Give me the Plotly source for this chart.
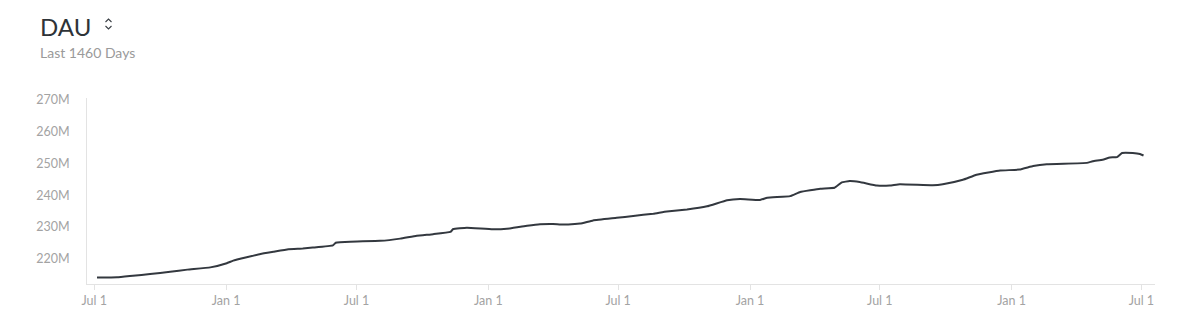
import plotly.graph_objects as go

dates = ["2019-07-05","2019-08-02","2019-08-24","2019-09-17","2019-10-15","2019-11-08","2019-12-10",
         "2020-01-02","2020-01-11","2020-02-18","2020-03-07","2020-03-28","2020-04-17","2020-05-01",
         "2020-05-29","2020-06-02","2020-06-08","2020-07-02","2020-08-03","2020-08-31","2020-09-23",
         "2020-10-16","2020-11-09","2020-11-13","2020-12-02","2021-01-07","2021-01-31","2021-02-24",
         "2021-03-14","2021-04-01","2021-04-15","2021-05-09","2021-05-27","2021-06-29","2021-07-22",
         "2021-08-19","2021-09-07","2021-10-05","2021-11-02","2021-11-30","2021-12-18","2022-01-15",
         "2022-01-25","2022-02-26","2022-03-12","2022-04-09","2022-04-29","2022-05-09","2022-05-20",
         "2022-06-03","2022-06-27","2022-07-15","2022-07-29","2022-09-13","2022-09-27","2022-10-25",
         "2022-11-13","2022-12-16","2023-01-12","2023-01-31","2023-02-19","2023-04-16","2023-04-24",
         "2023-05-08","2023-05-18","2023-05-28","2023-06-04","2023-06-19","2023-06-29","2023-07-04"]
dau_m = [214.2,214.3,214.8,215.3,216.0,216.7,217.4,
         218.7,219.5,221.6,222.3,223.1,223.3,223.6,
         224.3,225.1,225.3,225.5,225.7,226.4,227.3,
         227.8,228.5,229.4,229.8,229.3,229.6,230.4,
         230.9,231.0,230.8,231.1,232.1,232.9,233.5,
         234.2,234.9,235.5,236.5,238.4,238.8,238.5,
         239.2,239.7,241.0,242.0,242.3,244.0,244.4,
         244.1,243.0,243.0,243.4,243.1,243.4,244.8,
         246.4,247.7,248.0,249.1,249.7,250.1,250.6,
         251.1,251.8,251.9,253.2,253.2,252.9,252.4]
dau = [v * 1e6 for v in dau_m]

y_ticks_m = [220, 230, 240, 250, 260, 270]
y_tick_labels = ["220M", "230M", "240M", "250M", "260M", "270M"]
x_ticks = ["2019-07-01","2020-01-01","2020-07-01","2021-01-01","2021-07-01",
           "2022-01-01","2022-07-01","2023-01-01","2023-07-01"]
x_tick_labels = ["Jul 1","Jan 1","Jul 1","Jan 1","Jul 1","Jan 1","Jul 1","Jan 1","Jul 1"]

fig = go.Figure()
fig.add_trace(go.Scatter(x=dates, y=dau, mode="lines",
                         line=dict(color="#33383f", width=2, shape="spline", smoothing=0.3),
                         hoverinfo="x+y", showlegend=False))

axis_col = "#e3e3e3"
tick_font = dict(family="Lato", size=12.5, color="#a3a3a3")
fig.update_layout(
    width=1200, height=329,
    margin=dict(l=87, r=45, t=98, b=45),
    paper_bgcolor="white", plot_bgcolor="white",
    font=dict(family="Lato"),
    xaxis=dict(range=["2019-06-21", "2023-07-20"], tickvals=x_ticks, ticktext=x_tick_labels,
               showgrid=False, zeroline=False, showline=True, linecolor=axis_col, linewidth=1,
               ticks="outside", ticklen=5, tickcolor=axis_col, tickfont=tick_font),
    yaxis=dict(range=[212.2e6, 270.4e6], tickvals=[v * 1e6 for v in y_ticks_m],
               ticktext=y_tick_labels, showgrid=False, zeroline=False, showline=True,
               linecolor=axis_col, linewidth=1, ticks="", ticklabelstandoff=14,
               tickfont=tick_font),
)

fig.add_annotation(xref="paper", yref="paper", x=0, y=1, xshift=-87 + 38, yshift=98 - 10,
                   text="DAU", showarrow=False, xanchor="left", yanchor="top",
                   font=dict(family="Lato", size=24, color="#2e3338"))
fig.add_annotation(xref="paper", yref="paper", x=0, y=1, xshift=-87 + 38, yshift=98 - 42,
                   text="Last 1460 Days", showarrow=False, xanchor="left", yanchor="top",
                   font=dict(family="Lato", size=14, color="#9a9a9a"))

# up/down chevron icon next to the title (pixel-positioned shapes)
def px(xp):
    return (xp - 87) / (1200 - 87 - 45)
def py(yp):
    return 1 - (yp - 98) / (329 - 98 - 45)
for pts in ([(105.5, 22), (108.5, 19), (111.5, 22)], [(105.5, 26), (108.5, 29), (111.5, 26)]):
    path = "M {} {} L {} {} L {} {}".format(px(pts[0][0]), py(pts[0][1]), px(pts[1][0]),
                                            py(pts[1][1]), px(pts[2][0]), py(pts[2][1]))
    fig.add_shape(type="path", xref="paper", yref="paper", path=path,
                  line=dict(color="#3a3f45", width=1.1))

fig.write_html("out.html")
